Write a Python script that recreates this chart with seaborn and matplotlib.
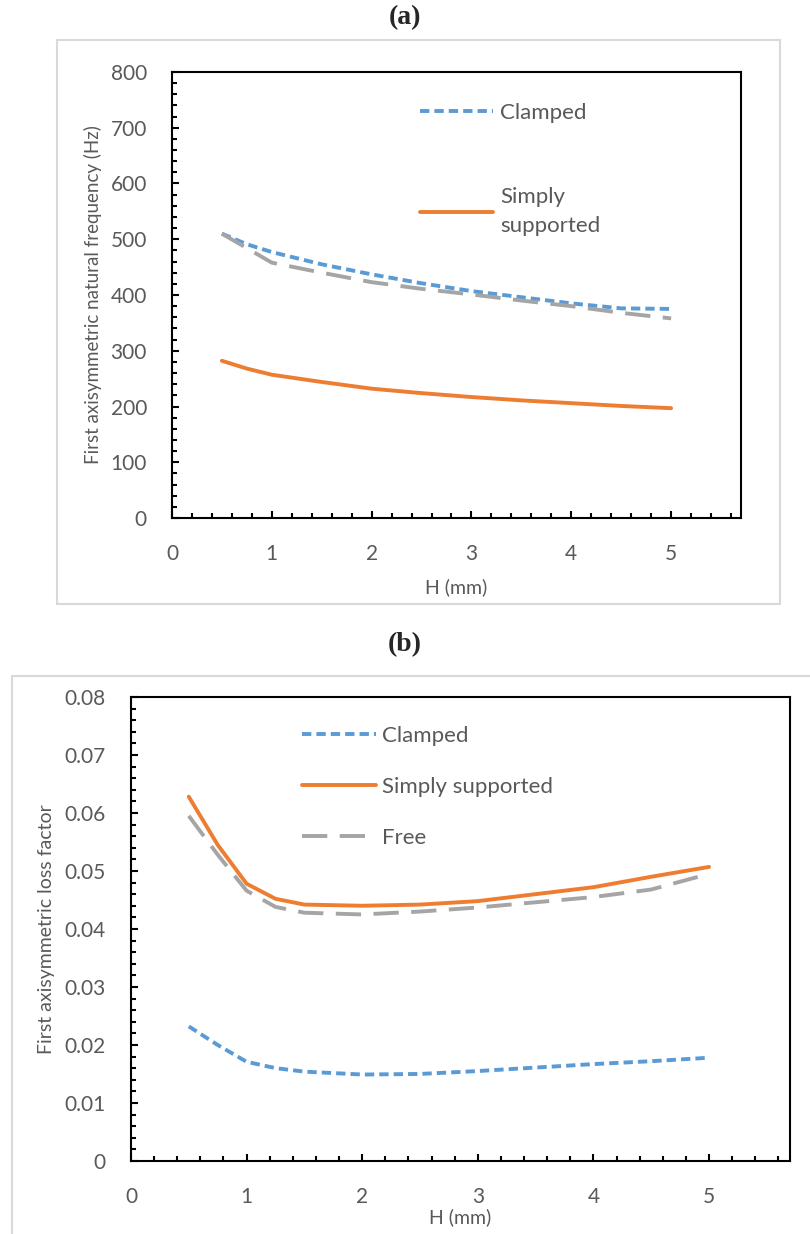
import pandas as pd
import matplotlib.pyplot as plt
import seaborn as sns
from matplotlib.patches import Rectangle
from matplotlib.ticker import MultipleLocator

# dados (a): frequencia natural (Hz) x espessura H (mm)
h_freq = [0.5, 0.75, 1, 1.5, 2, 2.5, 3, 3.5, 4, 4.5, 5]
freq_clamped = [510, 491, 477, 455, 437, 421, 407, 396, 385, 376, 375]
freq_simply = [282, 268, 257, 244, 232, 224, 217, 211, 206, 201, 197]
freq_free = [510, 484, 458, 440, 423, 411, 401, 390, 380, 368, 358]

# dados (b): fator de perda x espessura H (mm)
h_loss = [0.5, 0.75, 1, 1.25, 1.5, 2, 2.5, 3, 3.5, 4, 4.5, 5]
loss_clamped = [0.0232, 0.0200, 0.0171, 0.0160, 0.0154, 0.0149, 0.0150, 0.0155, 0.0161, 0.0167, 0.0172, 0.0178]
loss_simply = [0.0628, 0.0545, 0.0478, 0.0452, 0.0442, 0.0440, 0.0442, 0.0448, 0.0460, 0.0472, 0.0490, 0.0507]
loss_free = [0.0595, 0.0528, 0.0466, 0.0438, 0.0428, 0.0425, 0.0430, 0.0437, 0.0446, 0.0455, 0.0468, 0.0495]

casos = ['Clamped', 'Simply supported', 'Free']
cores = {'Clamped': '#5B9BD5', 'Simply supported': '#ED7D31', 'Free': '#A5A5A5'}
tracos = {'Clamped': (2.4, 1.3), 'Simply supported': '', 'Free': (6.5, 3.2)}


def montar_df(h, series):
    partes = [pd.DataFrame({'H': h, 'valor': v, 'caso': c}) for c, v in zip(casos, series)]
    return pd.concat(partes, ignore_index=True)


df_freq = montar_df(h_freq, [freq_clamped, freq_simply, freq_free])
df_loss = montar_df(h_loss, [loss_clamped, loss_simply, loss_free])

sns.set_style("ticks")
plt.rcParams['font.family'] = ['Lato', 'DejaVu Sans']
cinza = '#595959'

fig = plt.figure(figsize=(8.1, 12.34), dpi=100)

# molduras cinza claro de cada grafico
fig.patches.append(Rectangle((0.0704, 0.5105), 0.8926, 0.457, transform=fig.transFigure,
                             fill=False, edgecolor='#D9D9D9', linewidth=1.5))
fig.patches.append(Rectangle((0.0148, -0.01), 1.0, 0.462, transform=fig.transFigure,
                             fill=False, edgecolor='#D9D9D9', linewidth=1.5))

ax1 = fig.add_axes([0.2123, 0.5802, 0.7025, 0.3615])
ax2 = fig.add_axes([0.1617, 0.0592, 0.8136, 0.3760])


def estilo_eixo(ax, ymax, ymaj, ymin):
    ax.set_xlim(0, 5.7)
    ax.set_ylim(0, ymax)
    ax.xaxis.set_major_locator(MultipleLocator(1))
    ax.xaxis.set_minor_locator(MultipleLocator(0.2))
    ax.yaxis.set_major_locator(MultipleLocator(ymaj))
    ax.yaxis.set_minor_locator(MultipleLocator(ymin))
    for s in ax.spines.values():
        s.set_linewidth(1.5)
        s.set_color('black')
    ax.tick_params(which='both', direction='in', width=1.5, top=False, right=False,
                   colors='black', labelcolor=cinza, labelsize=15)
    ax.tick_params(which='major', length=5)
    ax.tick_params(which='minor', length=3.5)
    ax.tick_params(axis='y', which='major', pad=18)
    ax.tick_params(axis='x', which='major', pad=19)


for ax, df in [(ax1, df_freq), (ax2, df_loss)]:
    sns.lineplot(data=df, x='H', y='valor', hue='caso', style='caso', hue_order=casos,
                 style_order=casos, palette=cores, dashes=tracos, linewidth=2.8,
                 legend=False, ax=ax)

estilo_eixo(ax1, 800, 100, 20)
estilo_eixo(ax2, 0.08, 0.01, 0.002)
ax2.yaxis.set_major_formatter(plt.FuncFormatter(lambda v, p: '0' if v == 0 else f'{v:.2f}'))

ax1.set_xlabel('H (mm)', color=cinza, fontsize=14, labelpad=10)
ax1.set_ylabel('First axisymmetric natural frequency (Hz)', color=cinza, fontsize=13.5, labelpad=6)
ax2.set_xlabel('H (mm)', color=cinza, fontsize=14, labelpad=1)
ax2.set_ylabel('First axisymmetric loss factor', color=cinza, fontsize=14, labelpad=7)

# legenda (a): apenas clamped e simply supported
h1 = ax1.get_lines()
leg1 = ax1.legend([h1[0], h1[1]], ['Clamped', 'Simply\nsupported'], loc='upper left',
                  bbox_to_anchor=(0.436, 0.93), frameon=False, fontsize=16, handlelength=3.3,
                  handletextpad=0.3, labelspacing=2.85, labelcolor=cinza, borderpad=0,
                  borderaxespad=0)
for t in leg1.get_texts():
    t.set_linespacing(1.6)

h2 = ax2.get_lines()
ax2.legend(h2[:3], casos, loc='upper left', bbox_to_anchor=(0.26, 0.937), frameon=False,
           fontsize=16, handlelength=3.3, handletextpad=0.3, labelspacing=1.38,
           labelcolor=cinza, borderpad=0, borderaxespad=0)

fig.text(0.5, 0.9854, '(a)', ha='center', va='center', fontsize=20, fontweight='bold',
         family='Liberation Serif')
fig.text(0.5, 0.4773, '(b)', ha='center', va='center', fontsize=20, fontweight='bold',
         family='Liberation Serif')

fig.savefig('out.png', dpi=100)
